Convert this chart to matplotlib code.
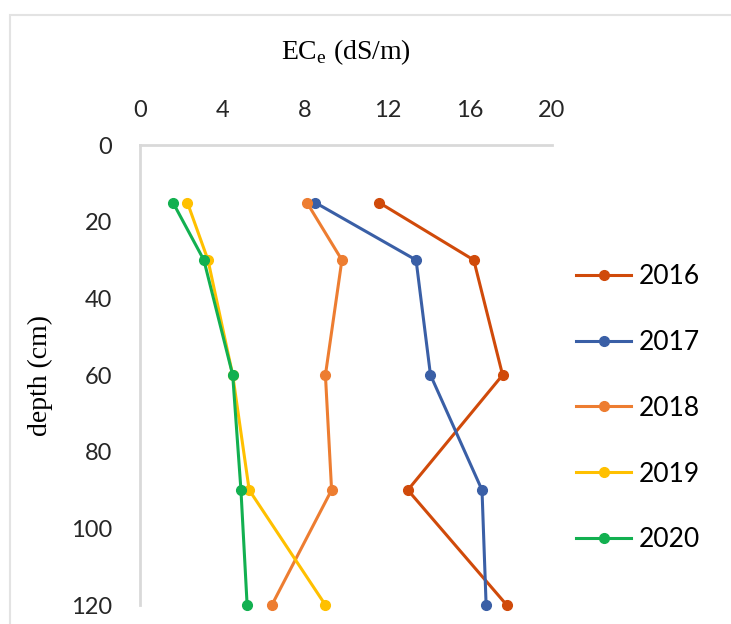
import numpy as np
import matplotlib.pyplot as plt
from matplotlib.patches import Rectangle

# soil salinity profiles by year
depth = [15, 30, 60, 90, 120]
ec_2016 = [11.6, 16.2, 17.6, 13.0, 17.8]
ec_2017 = [8.5, 13.4, 14.1, 16.6, 16.8]
ec_2018 = [8.1, 9.8, 9.0, 9.3, 6.4]
ec_2019 = [2.3, 3.3, 4.5, 5.3, 9.0]
ec_2020 = [1.6, 3.1, 4.5, 4.9, 5.2]

years = ['2016', '2017', '2018', '2019', '2020']
colors = ['#D04A0A', '#3A5FA6', '#ED7D31', '#FFC000', '#12B050']
series = [ec_2016, ec_2017, ec_2018, ec_2019, ec_2020]

xticks = [0, 4, 8, 12, 16, 20]
yticks = [0, 20, 40, 60, 80, 100, 120]

fig = plt.figure(figsize=(7.31, 6.24), dpi=100)
ax = fig.add_axes([0.1915, 0.0304, 0.5637, 0.7372])

for yr, c, vals in zip(years, colors, series):
    ax.plot(vals, depth, color=c, lw=2.2, marker='o', ms=7, label=yr, clip_on=False)

ax.set_xlim(0, 20)
ax.set_ylim(120, 0)
ax.set_xticks(xticks)
ax.set_yticks(yticks)
ax.xaxis.tick_top()
ax.xaxis.set_label_position('top')
ax.tick_params(axis='y', length=0, labelsize=17, colors='#262626', pad=20)
ax.tick_params(axis='x', length=0, labelsize=17, colors='#262626', pad=17)
for lab in ax.get_xticklabels() + ax.get_yticklabels():
    lab.set_family('Lato')

for s in ['right', 'bottom']:
    ax.spines[s].set_visible(False)
for s in ['top', 'left']:
    ax.spines[s].set_color('#d9d9d9')
    ax.spines[s].set_linewidth(2)

ax.set_xlabel('EC$_\\mathregular{e}$ (dS/m)', family='Liberation Serif', fontsize=20, labelpad=30)
ax.set_ylabel('depth (cm)', family='Liberation Serif', fontsize=20, labelpad=13)

leg = ax.legend(loc='center left', bbox_to_anchor=(1.0, 0.428), frameon=False,
                prop={'family': 'Lato', 'size': 19}, labelspacing=1.55,
                handlelength=2.1, handletextpad=0.3)

# light outer frame
fig.patches.append(Rectangle((0.014, -0.01), 1.0, 0.986, transform=fig.transFigure,
                             fill=False, ec='#e3e3e3', lw=1.5))

fig.savefig('out.png', dpi=100)
